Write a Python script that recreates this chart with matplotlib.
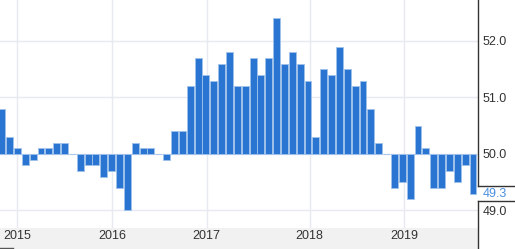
import numpy as np
import matplotlib
matplotlib.use("Agg")
from matplotlib import pyplot as plt
from matplotlib.patches import Rectangle
from matplotlib.lines import Line2D
import matplotlib.transforms as mtransforms

# monthly index values, oct 2014 -> oct 2019
pmi = [50.8, 50.3, 50.1,
       49.8, 49.9, 50.1, 50.1, 50.2, 50.2, 50.0, 49.7, 49.8, 49.8, 49.6, 49.7,
       49.4, 49.0, 50.2, 50.1, 50.1, 50.0, 49.9, 50.4, 50.4, 51.2, 51.7, 51.4,
       51.3, 51.6, 51.8, 51.2, 51.2, 51.7, 51.4, 51.7, 52.4, 51.6, 51.8, 51.6,
       51.3, 50.3, 51.5, 51.4, 51.9, 51.5, 51.2, 51.3, 50.8, 50.2, 50.0, 49.4,
       49.5, 49.2, 50.5, 50.1, 49.4, 49.4, 49.7, 49.5, 49.8, 49.3]
year_labels = ["2015", "2016", "2017", "2018", "2019"]
year_pos = [2.0, 14.1, 26.1, 39.2, 51.2]
y_ticks = [49.0, 50.0, 51.0, 52.0]
base = 50.0

plt.rcParams['font.family'] = ['Liberation Sans', 'DejaVu Sans']

W, H = 515, 249
fig = plt.figure(figsize=(W / 100, H / 100), dpi=100)
right_px = 477.7
band_px = 21
ax = fig.add_axes([0, band_px / H, right_px / W, 1 - band_px / H])

# grey band under the plot for the year labels
fig.patches.append(Rectangle((0, 0), right_px / W, band_px / H, transform=fig.transFigure,
                             facecolor='#f1f1f1', edgecolor='none', zorder=-1))

x = np.arange(len(pmi))
heights = np.array(pmi) - base
ax.bar(x, heights, bottom=base, width=0.88, color='#2a74d2',
       edgecolor='#9fc2ec', linewidth=0.6, zorder=3)

ax.set_xlim(-0.216, 60.6)
ax.set_ylim(48.69, 52.725)

ax.set_yticks(y_ticks)
ax.set_yticklabels([f"{v:.1f}" for v in y_ticks])
ax.yaxis.tick_right()
ax.tick_params(axis='y', length=0, pad=3.8, labelsize=9, labelcolor='#333333')

ax.set_xticks(year_pos)
ax.set_xticklabels(year_labels)
ax.tick_params(axis='x', length=0, pad=1.5, labelsize=9, labelcolor='#333333')

ax.grid(True, color='#e7eaf1', linewidth=1, zorder=0)
ax.set_axisbelow(True)
for s in ax.spines.values():
    s.set_visible(False)
ax.set_facecolor('white')

# last value label on the right axis
trans = mtransforms.blended_transform_factory(ax.transAxes, ax.transData)
ax.text(1 + 5.3 / right_px, pmi[-1], f"{pmi[-1]:.1f}", transform=trans, color='#4a8fe0',
        fontsize=9, ha='left', va='center', clip_on=False)

# right axis line broken around the last value label
xs = right_px / W
y_top = 1 - 185.5 / H
y_bot = 1 - 200.5 / H
fig.lines.append(Line2D([xs, xs], [1, y_top], transform=fig.transFigure, color='#333333', lw=1))
fig.lines.append(Line2D([xs, xs], [y_bot, 0], transform=fig.transFigure, color='#333333', lw=1))
fig.lines.append(Line2D([xs, 1], [y_top, y_top], transform=fig.transFigure, color='#333333', lw=1))
fig.lines.append(Line2D([xs, 1], [y_bot, y_bot], transform=fig.transFigure, color='#333333', lw=1))
fig.lines.append(Line2D([0, 13 / W], [1.5 / H, 1.5 / H], transform=fig.transFigure, color='#555555', lw=1))

fig.savefig("out.png", dpi=100)
